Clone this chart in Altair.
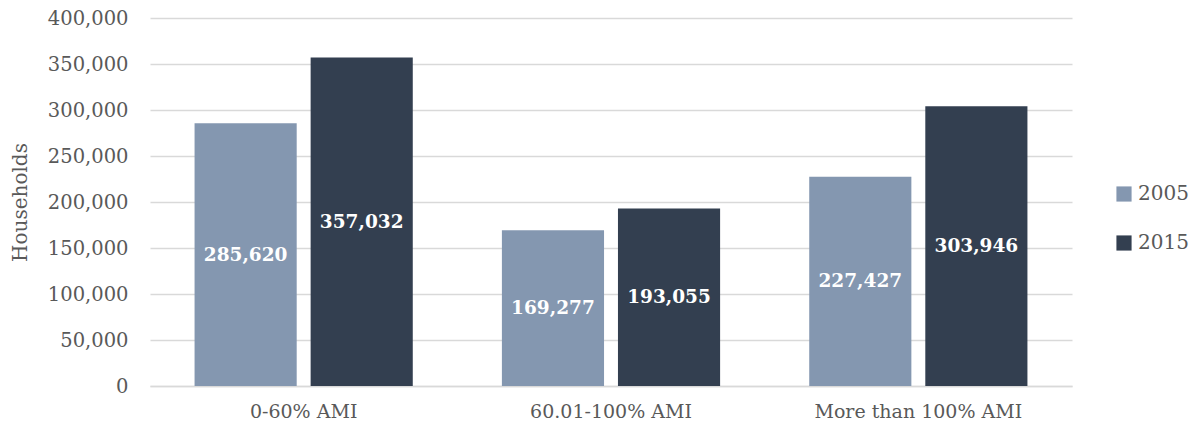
import altair as alt
import pandas as pd

categories = ["0-60% AMI", "60.01-100% AMI", "More than 100% AMI"]
years = ["2005", "2015"]
values_2005 = [285620, 169277, 227427]
values_2015 = [357032, 193055, 303946]

rows = []
for c, a, b in zip(categories, values_2005, values_2015):
    rows.append({"cat": c, "year": "2005", "value": a})
    rows.append({"cat": c, "year": "2015", "value": b})
df = pd.DataFrame(rows)

FONT = "DejaVu Serif"
GRAY = "#595959"

x = alt.X("cat:N", sort=categories, title=None,
          scale=alt.Scale(paddingInner=0.29, paddingOuter=0.145),
          axis=alt.Axis(labelAngle=0, labelFont=FONT, labelFontSize=19, labelColor=GRAY,
                        labelPadding=16, labelLimit=0, ticks=False, domain=True,
                        domainColor="#D9D9D9", domainWidth=1.5, grid=False))
xo = alt.XOffset("year:N", sort=years, scale=alt.Scale(paddingInner=0.12, paddingOuter=0))

base = alt.Chart(df)

bars = base.mark_bar().encode(
    x=x,
    xOffset=xo,
    y=alt.Y("value:Q", title="Households",
            scale=alt.Scale(domain=[0, 400000], nice=False),
            axis=alt.Axis(values=list(range(0, 400001, 50000)), format=",d",
                          labelFont=FONT, labelFontSize=19.5, labelColor=GRAY,
                          labelPadding=22, ticks=False, domain=False,
                          gridColor="#D9D9D9", gridWidth=1.5,
                          titleFont=FONT, titleFontSize=20, titleFontWeight="normal",
                          titleColor=GRAY, titleX=-130, titleY=184, titleAngle=-90,
                          titleAlign="center", titleBaseline="middle")),
    color=alt.Color("year:N", sort=years,
                    scale=alt.Scale(domain=years, range=["#8497B0", "#333F50"]),
                    legend=alt.Legend(title=None, orient="none", legendX=964, legendY=166,
                                      symbolType="square", symbolSize=230,
                                      symbolStrokeWidth=0, labelFont=FONT,
                                      labelFontSize=20, labelColor=GRAY, labelOffset=4,
                                      rowPadding=29)),
)

labels = base.transform_calculate(mid="datum.value / 2").mark_text(
    font=FONT, fontSize=18.5, fontWeight="bold", color="white", baseline="middle"
).encode(
    x=alt.X("cat:N", sort=categories),
    xOffset=alt.XOffset("year:N", sort=years),
    y=alt.Y("mid:Q"),
    text=alt.Text("value:Q", format=",d"),
)

chart = alt.layer(bars, labels).properties(
    width=922, height=368,
    autosize=alt.AutoSizeParams(type="none"),
    padding={"left": 150, "top": 18, "right": 126, "bottom": 43},
    background="white",
).configure_view(strokeWidth=0, stroke="transparent")

chart.save("out.html", embed_options={"renderer": "svg", "actions": False})
